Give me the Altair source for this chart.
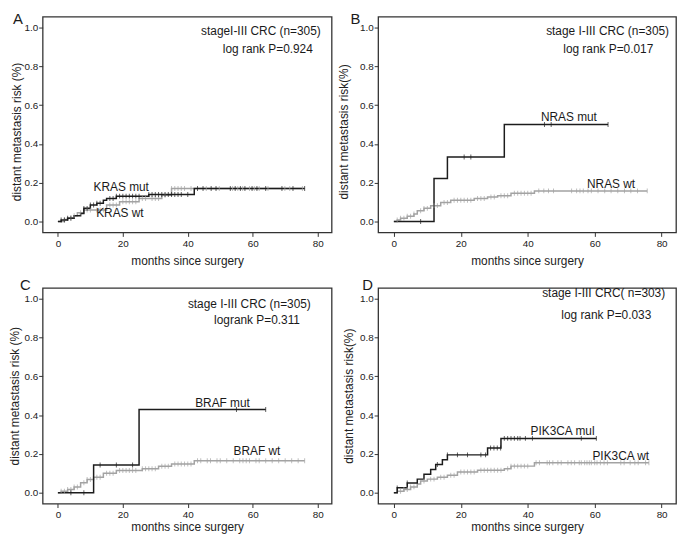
import altair as alt
import pandas as pd

FONT = "Liberation Sans"
W_LEFT, W_RIGHT, H = 292, 301, 218
X_DOMAIN = [-4.7, 84.3]
Y_DOMAIN = [-0.056, 1.056]
GRAY = "#a3a3a3"
BLACK = "#1c1c1c"

# ---------------- Panel A: KRAS ----------------
a_mut_t = [0, 1, 3, 5, 7, 8, 10, 12, 14, 15, 18, 28, 42]
a_mut_v = [0, 0.008, 0.017, 0.03, 0.042, 0.068, 0.085, 0.094, 0.11, 0.119, 0.131, 0.139, 0.17]
a_mut_c = [1, 2, 3, 4, 8, 9, 10, 11, 12, 13, 16, 17, 18, 19, 20, 21, 22, 23, 24, 25, 28, 29, 30,
           31, 32, 33, 34, 35, 36, 37, 38, 40, 43, 44.7, 47.2, 48.7, 53.1, 54.6, 56.2, 57.6, 59.8,
           61.3, 64, 69, 72.4, 76]
a_wt_t = [0, 2, 3, 5, 6, 8, 15, 19, 25, 32, 35]
a_wt_v = [0, 0.01, 0.02, 0.03, 0.045, 0.06, 0.085, 0.102, 0.119, 0.136, 0.17]
a_wt_c = [2, 4, 5, 7, 9, 10, 12, 13, 14, 16, 17, 18, 20, 21, 22, 23, 24, 26, 27, 29, 30, 31, 33,
          35, 36, 37, 38, 39, 41, 45.7, 49.7, 53.8, 55.4, 56.9, 59, 60.5, 62, 64.7, 69.9, 71.4, 75.3]

# ---------------- Panel B: NRAS ----------------
b_mut_t = [0, 12, 16, 33]
b_mut_v = [0, 0.222, 0.333, 0.5]
b_mut_c = [8, 21, 23, 45, 47, 64]
b_wt_t = [0, 1, 2, 4, 6, 7, 9, 11, 14, 17, 24, 28, 31, 35, 42]
b_wt_v = [0, 0.008, 0.017, 0.027, 0.039, 0.056, 0.068, 0.082, 0.098, 0.11, 0.119, 0.127, 0.133,
          0.146, 0.158]
b_wt_c = [1, 2, 3, 4, 5, 6, 8, 9, 10, 12, 13, 15, 16, 18, 19, 20, 21, 22, 23, 25, 26, 27, 29, 30,
          32, 33, 34, 36, 37, 38, 39, 40, 41, 43.3, 44.8, 46.2, 47.7, 53.1, 54.6, 55.6, 56.6, 58,
          59, 61, 63, 64.9, 66.9, 68.9, 70.8, 72.8, 75.7]

# ---------------- Panel C: BRAF ----------------
c_mut_t = [0, 11, 25]
c_mut_v = [0, 0.143, 0.429]
c_mut_c = [4, 8, 13, 18, 23, 55, 64]
c_wt_t = [0, 1, 3, 5, 7, 9, 11, 14, 18, 26, 31, 35, 42]
c_wt_v = [0, 0.008, 0.017, 0.029, 0.051, 0.068, 0.08, 0.1, 0.114, 0.124, 0.136, 0.148, 0.165]
c_wt_c = [1, 2, 3, 4, 5, 6, 8, 9, 10, 12, 13, 15, 16, 17, 19, 20, 21, 22, 23, 24, 26, 27, 28,
          29, 30, 32, 33, 34, 36, 37, 38, 39, 40, 41, 43, 44, 46, 47, 49, 50, 52, 54, 56, 57, 58,
          59, 61, 62, 64, 66, 68, 70, 72, 74, 76]

# ---------------- Panel D: PIK3CA ----------------
d_mut_t = [0, 1, 4, 7, 9, 11, 12.5, 14.5, 16, 28, 32]
d_mut_v = [0, 0.025, 0.05, 0.07, 0.095, 0.12, 0.145, 0.17, 0.195, 0.23, 0.28]
d_mut_c = [1, 4, 13, 16, 19, 22, 26, 27.4, 28.9, 29.9, 30.9, 31.9, 33, 34, 35, 36, 37, 37.7,
           39.3, 41.4, 56, 60.5]
d_wt_t = [0, 1, 3, 5, 7, 8, 10, 13, 16, 19, 25, 33, 35, 42]
d_wt_v = [0, 0.008, 0.017, 0.03, 0.045, 0.06, 0.07, 0.08, 0.09, 0.107, 0.116, 0.124, 0.137,
          0.154]
d_wt_c = [2, 3, 4, 5, 6, 9, 11, 12, 14, 15, 17, 18, 20, 21, 22, 23, 24, 26, 27, 28, 29, 30, 31,
          32, 34, 35, 36, 37, 38, 39, 40, 42.5, 43.5, 45.8, 46.5, 47.5, 49, 50, 52, 53, 54, 55.4,
          56, 57, 57.7, 58.4, 59, 60, 60.7, 61.7, 62.8, 63.8, 67.8, 68.8, 70.6, 72, 73, 75.2, 76.2]

# Curve labels (text, months at centre, risk at text baseline)
a_labels = [("KRAS mut", 19.5, 0.153), ("KRAS wt", 19.1, 0.017)]
b_labels = [("NRAS mut", 52.3, 0.515), ("NRAS wt", 64.9, 0.17)]
c_labels = [("BRAF mut", 50.7, 0.436), ("BRAF wt", 61.3, 0.187)]
d_labels = [("PIK3CA mul", 50.4, 0.29), ("PIK3CA wt", 67.8, 0.166)]

# Panel notes: (text, px from right edge, px from top)
a_notes = [("stageI-III CRC (n=305)", 11, 15), ("log rank P=0.924", 19, 33)]
b_notes = [("stage I-III CRC (n=305)", 7, 15), ("log rank P=0.017", 23, 33)]
c_notes = [("stage I-III CRC (n=305)", 21, 16), ("logrank P=0.311", 32, 33)]
d_notes = [("stage I-III CRC( n=303)", 11, 5), ("log rank P=0.033", 25, 27)]


def step_at(ts, vs, t):
    val = vs[0]
    for ti, vi in zip(ts, vs):
        if ti <= t:
            val = vi
    return val


def panel(width, letter, letter_xy, ytitle, title_x, title_dy, x_title_pad,
          mut, wt, labels, notes):
    lines, cens = [], []
    for name, (ts, vs, cs) in (("wt", wt), ("mut", mut)):
        for t, v in zip(ts, vs):
            lines.append({"s": name, "t": t, "v": v})
        lines.append({"s": name, "t": max(cs), "v": vs[-1]})
        for c in cs:
            cens.append({"s": name, "t": c, "v": step_at(ts, vs, c)})

    X = alt.X("t:Q", scale=alt.Scale(domain=X_DOMAIN, nice=False, zero=False),
              axis=alt.Axis(values=[0, 20, 40, 60, 80], title="months since surgery",
                            titlePadding=x_title_pad))
    Y = alt.Y("v:Q", scale=alt.Scale(domain=Y_DOMAIN, nice=False, zero=False),
              axis=alt.Axis(values=[0, 0.2, 0.4, 0.6, 0.8, 1.0], format=".1f", title=ytitle,
                            titleX=title_x, titleY=H / 2 + title_dy, titleBaseline="bottom"))
    C = alt.Color("s:N", scale=alt.Scale(domain=["wt", "mut"], range=[GRAY, BLACK]), legend=None)

    line = alt.Chart(pd.DataFrame(lines)).mark_line(
        interpolate="step-after", strokeWidth=1.5).encode(x=X, y=Y, color=C, detail="s:N")
    ticks = alt.Chart(pd.DataFrame(cens)).mark_tick(
        orient="vertical", size=5, thickness=1).encode(x=X, y=Y, color=C)
    lab_df = pd.DataFrame({"label": [l[0] for l in labels],
                           "t": [l[1] for l in labels],
                           "v": [l[2] for l in labels]})
    labs = alt.Chart(lab_df).mark_text(font=FONT, fontSize=12, color="#1a1a1a",
                                       baseline="alphabetic", align="center", dy=-1).encode(
        x=X, y=Y, text="label:N")
    layers = [line, ticks, labs]
    for txt, dx, dy in notes:
        layers.append(
            alt.Chart(pd.DataFrame({"txt": [txt]})).mark_text(
                font=FONT, fontSize=12, color="#1a1a1a", align="right", baseline="middle"
            ).encode(text="txt:N", x=alt.value(width - dx), y=alt.value(dy)))
    layers.append(
        alt.Chart(pd.DataFrame({"txt": [letter]})).mark_text(
            font=FONT, fontSize=15, color="#1a1a1a", align="left", baseline="top"
        ).encode(text="txt:N", x=alt.value(letter_xy[0]), y=alt.value(letter_xy[1])))
    return alt.layer(*layers).properties(width=width, height=H)


pA = panel(W_LEFT, "A", (-30, -5), "distant metastasis risk (%)", -19, 7, 7,
           (a_mut_t, a_mut_v, a_mut_c), (a_wt_t, a_wt_v, a_wt_c), a_labels, a_notes)
pB = panel(W_RIGHT, "B", (-28, -5), "distant metastasis risk(%)", -28, 7, 7,
           (b_mut_t, b_mut_v, b_mut_c), (b_wt_t, b_wt_v, b_wt_c), b_labels, b_notes)
pC = panel(W_LEFT, "C", (-23, -10), "distant metastasis risk (%)", -21, 0, 2,
           (c_mut_t, c_mut_v, c_mut_c), (c_wt_t, c_wt_v, c_wt_c), c_labels, c_notes)
pD = panel(W_RIGHT, "D", (-16, -10), "distant metastasis risk(%)", -23, 0, 2,
           (d_mut_t, d_mut_v, d_mut_c), (d_wt_t, d_wt_v, d_wt_c), d_labels, d_notes)

chart = alt.concat(
    pA, pB, pC, pD,
    columns=2,
    spacing={"row": 56, "column": 47},
    bounds="flush",
    padding={"left": 0, "top": 0, "right": 0, "bottom": 0},
).configure_view(
    stroke="#333333", strokeWidth=1.3
).configure_axis(
    grid=False, domain=False, ticks=True, tickSize=4, tickColor="#333333", tickWidth=1,
    labelFont=FONT, labelFontSize=10, labelColor="#222222", labelPadding=1,
    titleFont=FONT, titleFontSize=12, titleFontWeight="normal", titleColor="#222222",
    titlePadding=2
).configure_axisX(labelPadding=2)

chart.save("out.html", embed_options={"renderer": "svg", "actions": False})
